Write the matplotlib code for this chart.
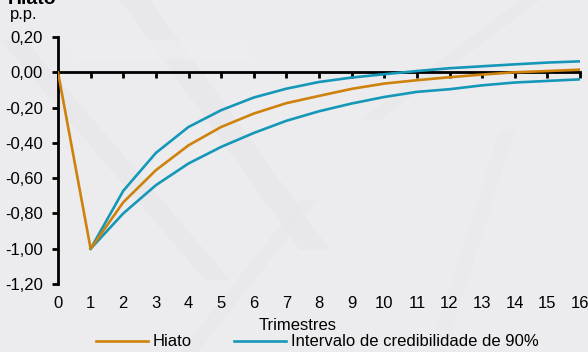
import matplotlib
matplotlib.use("Agg")
import matplotlib.pyplot as plt
from matplotlib.patches import Polygon
from matplotlib.transforms import blended_transform_factory

plt.rcParams['font.family'] = ['Liberation Sans', 'DejaVu Sans']

# Quarters after the shock
quarters = list(range(17))
x_tick_labels = [str(q) for q in quarters]

# Output gap response (p.p.)
hiato = [0.0, -1.00, -0.737, -0.555, -0.414, -0.31, -0.234, -0.175, -0.134,
         -0.094, -0.064, -0.045, -0.028, -0.013, 0.0, 0.007, 0.015]
# 90% credibility interval bounds
upper = [0.0, -1.00, -0.672, -0.457, -0.31, -0.215, -0.143, -0.093, -0.055,
         -0.03, -0.011, 0.007, 0.023, 0.034, 0.045, 0.055, 0.062]
lower = [0.0, -1.00, -0.80, -0.64, -0.517, -0.423, -0.344, -0.275, -0.221,
         -0.177, -0.14, -0.111, -0.096, -0.074, -0.058, -0.049, -0.04]

y_ticks = [0.2, 0.0, -0.2, -0.4, -0.6, -0.8, -1.0, -1.2]
y_tick_labels = ['0,20', '0,00', '-0,20', '-0,40', '-0,60', '-0,80', '-1,00', '-1,20']

ORANGE = '#CE820C'
BLUE = '#1598B7'
BG = '#ECECEF'
FS = 12

W, H = 588, 352
fig = plt.figure(figsize=(W / 100, H / 100), dpi=100, facecolor=BG)

# Faint diagonal texture in the page background (pixel coords, top-left origin)
bands = [
    ([(0, 40), (25, 40), (230, 280), (205, 280)], '#E2E2E5'),
    ([(120, 0), (150, 0), (330, 250), (300, 250)], '#E4E4E7'),
    ([(70, 40), (240, 40), (250, 60), (80, 60)], '#F1F1F3'),
    ([(360, 120), (520, 0), (540, 0), (380, 120)], '#E5E5E8'),
    ([(180, 352), (300, 200), (318, 200), (198, 352)], '#E6E6E9'),
    ([(430, 352), (500, 130), (515, 130), (445, 352)], '#E7E7EA'),
]
for pts, col in bands:
    fig.patches.append(Polygon([(px / W, 1 - py / H) for px, py in pts],
                               closed=True, transform=fig.transFigure,
                               facecolor=col, edgecolor='none', alpha=0.4,
                               zorder=-10))

ax = fig.add_axes([58 / W, 1 - 284 / H, (580 - 58) / W, (284 - 37) / H])
ax.set_facecolor('none')
ax.set_zorder(5)

ax.plot(quarters[1:], upper[1:], color=BLUE, lw=1.9, solid_joinstyle='miter', zorder=3)
ax.plot(quarters[1:], lower[1:], color=BLUE, lw=1.9, solid_joinstyle='miter', zorder=3)
ax.plot(quarters, hiato, color=ORANGE, lw=1.9, zorder=4, label='Hiato')
ax.plot([], [], color=BLUE, lw=1.9, label='Intervalo de credibilidade de 90%')

ax.set_xlim(0, 16)
ax.set_ylim(-1.2, 0.2)

for side in ('top', 'right'):
    ax.spines[side].set_visible(False)
ax.spines['left'].set_linewidth(2.0)
ax.spines['bottom'].set_linewidth(2.0)
ax.spines['bottom'].set_position(('data', 0))
ax.spines['bottom'].set_zorder(2)

ax.set_yticks(y_ticks)
ax.set_yticklabels(y_tick_labels, fontsize=FS)
ax.tick_params(axis='y', direction='out', length=4, width=2, pad=7)
ax.set_xticks(quarters)
ax.tick_params(axis='x', direction='out', length=4, width=2, labelbottom=False)

# Quarter labels sit below the plot area, not on the zero line
trans = blended_transform_factory(ax.transData, fig.transFigure)
for q, lab in zip(quarters, x_tick_labels):
    ax.text(q, 1 - 303 / H, lab, transform=trans, ha='center', va='center',
            fontsize=FS)

fig.text(298 / W, 1 - 325 / H, 'Trimestres', ha='center', va='center',
         fontsize=FS, zorder=6)
fig.text(8 / W, 1 - 3.5 / H, 'Hiato', ha='left', va='baseline', fontsize=14,
         fontweight='bold', zorder=6)
fig.text(10 / W, 1 - 19 / H, 'p.p.', ha='left', va='baseline', fontsize=FS,
         zorder=6)

leg = fig.legend(loc='center left', bbox_to_anchor=(96 / W, 1 - 342 / H), ncol=2,
                 frameon=False, fontsize=FS, handlelength=3.1, handletextpad=0.3,
                 columnspacing=2.55, borderpad=0, borderaxespad=0)
leg.set_zorder(6)

fig.savefig('out.png', dpi=100, facecolor=BG)
